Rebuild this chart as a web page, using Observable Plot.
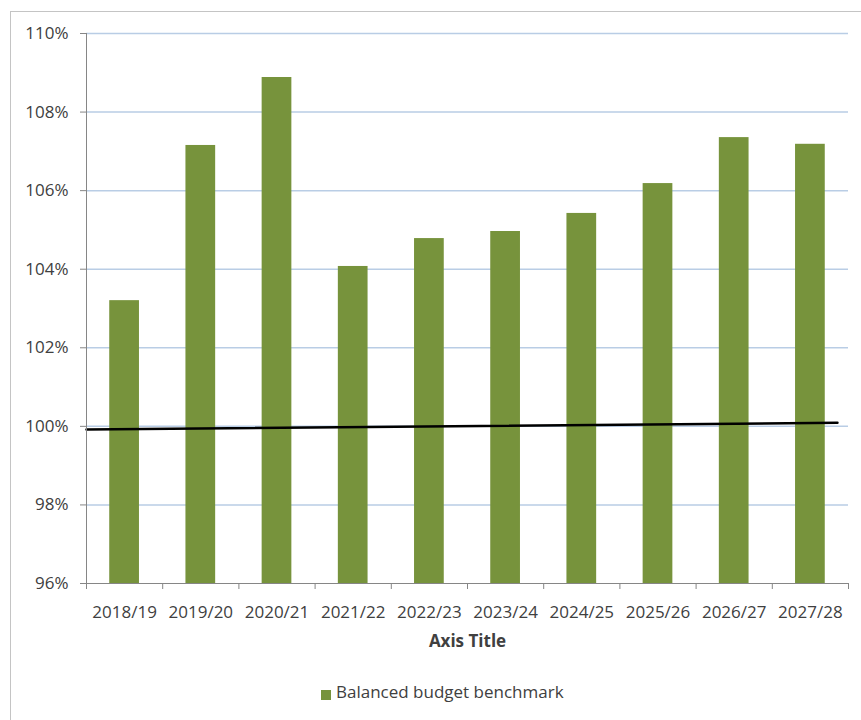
<!DOCTYPE html>
<html>
<head>
<meta charset="utf-8">
<script src="https://cdn.jsdelivr.net/npm/d3@7"></script>
<script src="https://cdn.jsdelivr.net/npm/@observablehq/plot@0.6"></script>
<style>
  html, body { margin: 0; padding: 0; background: #fff; }
  #wrap { position: relative; width: 861px; height: 720px; overflow: hidden; font-family: "Open Sans", sans-serif; }
  #frame { position: absolute; left: 10px; top: 11px; width: 900px; height: 800px; border: 1px solid #c4c4c4; box-sizing: border-box; }
  #chart { position: absolute; left: 0; top: 0; }
  #legend-sw { position: absolute; left: 321px; top: 690px; width: 10px; height: 10px; background: #77933c; }
  #legend-tx { position: absolute; left: 336px; top: 683px; font-size: 17px; line-height: 17px; color: #404040; white-space: nowrap; }
</style>
</head>
<body>
<div id="wrap">
  <div id="frame"></div>
  <div id="chart"></div>
  <div id="legend-sw"></div>
  <div id="legend-tx">Balanced budget benchmark</div>
</div>
<script>
const categories = ["2018/19","2019/20","2020/21","2021/22","2022/23","2023/24","2024/25","2025/26","2026/27","2027/28"];
const benchmark = [103.2, 107.15, 108.88, 104.07, 104.78, 104.96, 105.42, 106.18, 107.35, 107.18];
const refLineX = [0, 9.855];
const refLineY = [99.92, 100.09];
const yTicks = [96, 98, 100, 102, 104, 106, 108, 110];

const bars = categories.map((c, i) => ({i, c, v: benchmark[i]}));
const refLine = refLineX.map((x, k) => ({x, y: refLineY[k]}));
const barHalf = 0.195;

const plot = Plot.plot({
  width: 861,
  height: 665,
  marginLeft: 86,
  marginRight: 13,
  marginTop: 33,
  marginBottom: 82,
  style: {fontFamily: "Open Sans, sans-serif", fontSize: "17px", color: "#404040", background: "transparent"},
  x: {type: "linear", domain: [0, categories.length], axis: null},
  y: {domain: [96, 110], axis: null},
  marks: [
    Plot.gridY(yTicks.slice(1), {stroke: "#b9cde5", strokeOpacity: 1, strokeWidth: 1.5}),
    Plot.rectY(bars, {x1: d => d.i + 0.5 - barHalf, x2: d => d.i + 0.5 + barHalf, y1: 96, y2: "v", fill: "#77933c"}),
    Plot.line(refLine, {x: "x", y: "y", stroke: "#000", strokeWidth: 2.5}),
    Plot.axisY(yTicks, {tickSize: 6, tickPadding: 12, stroke: "#868686", tickFormat: d => d + "%", label: null, fill: "#404040"}),
    Plot.axisX(d3.range(categories.length + 1), {tickSize: 6, stroke: "#868686", tickFormat: () => "", label: null}),
    Plot.axisX(d3.range(categories.length).map(i => i + 0.5), {tickSize: 0, tickPadding: 22, tickFormat: v => categories[Math.floor(v)], fill: "#404040",
      label: "Axis Title", labelAnchor: "center", labelArrow: "none", labelOffset: 63}),
    Plot.ruleX([0], {stroke: "#868686"}),
    Plot.ruleY([96], {stroke: "#868686"})
  ]
});
document.getElementById("chart").appendChild(plot);
plot.querySelectorAll("text").forEach(t => { if (t.textContent === "Axis Title") { t.style.fontWeight = "bold"; } });
</script>
</body>
</html>
